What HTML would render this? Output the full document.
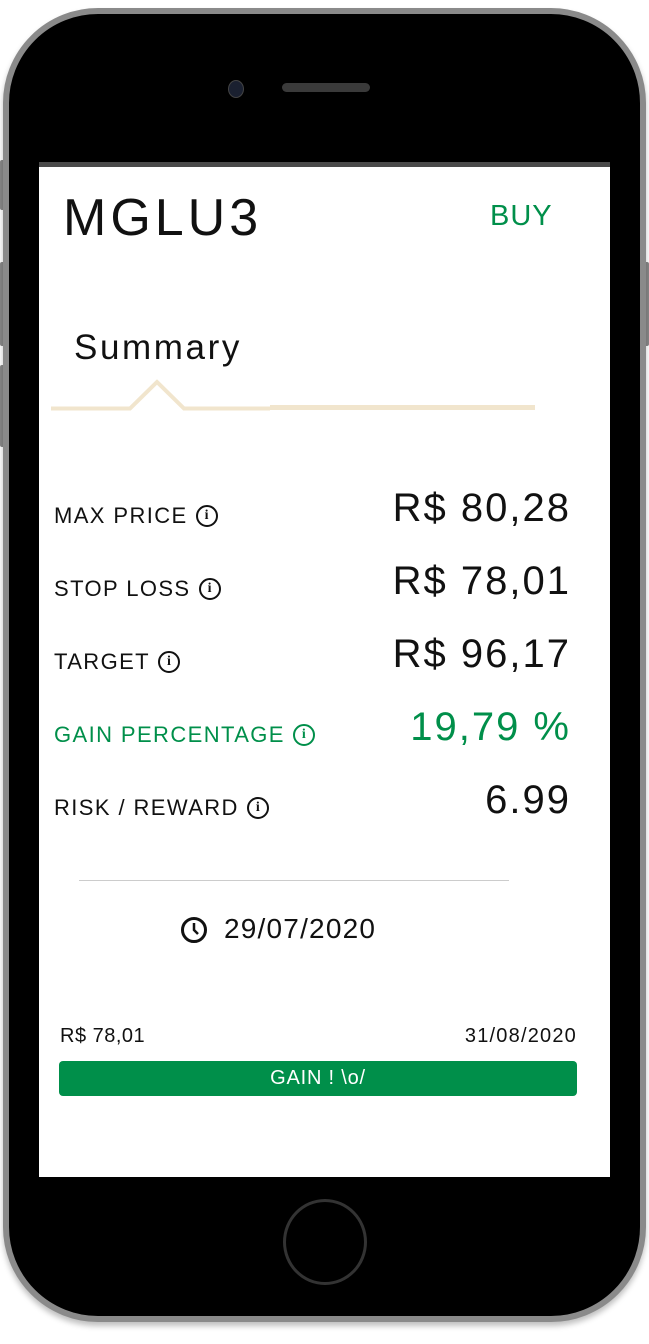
<!DOCTYPE html>
<html><head><meta charset="utf-8"><style>
body{margin:0;width:649px;height:1344px;background:#fff;position:relative;overflow:hidden;font-family:"Liberation Sans",sans-serif}
.a{position:absolute}
.lbl{position:absolute;left:54px;font-size:22px;color:#111;display:flex;align-items:center;gap:8px;letter-spacing:1.4px}
.val{position:absolute;right:78px;font-size:40px;color:#111;letter-spacing:2px}
.i{display:inline-block;width:22px;height:22px;border:2px solid #111;border-radius:50%;box-sizing:border-box;font-size:14px;line-height:18px;text-align:center;font-family:"Liberation Serif",serif;font-weight:bold;letter-spacing:0}
.g{color:#008f4a}.g .i{border-color:#008f4a}
</style></head><body>
<div class="a" style="left:0;top:160px;width:5px;height:50px;background:#888;border-radius:2px"></div>
<div class="a" style="left:0;top:262px;width:5px;height:84px;background:#888;border-radius:2px"></div>
<div class="a" style="left:0;top:365px;width:5px;height:82px;background:#888;border-radius:2px"></div>
<div class="a" style="right:0;top:262px;width:5px;height:84px;background:#888;border-radius:2px"></div>
<div class="a" style="left:3px;top:8px;width:643px;height:1314px;background:#000;border:6px solid #8a8a8a;box-sizing:border-box;border-radius:95px;box-shadow:0 4px 6px rgba(0,0,0,.25)"></div>
<div class="a" style="left:228px;top:80px;width:14px;height:16px;border-radius:50%;background:#1a2030;border:1px solid #444"></div>
<div class="a" style="left:282px;top:83px;width:88px;height:9px;border-radius:5px;background:#3a3a3a"></div>
<div class="a" style="left:283px;top:1199px;width:84px;height:86px;border-radius:50%;border:3px solid #333;box-sizing:border-box"></div>
<div class="a" style="left:39px;top:162px;width:571px;height:1015px;background:#fff;border-top:5px solid #4a4a4a;box-sizing:border-box"></div>
<div class="a" style="left:63px;top:188px;font-size:52px;color:#111;letter-spacing:4px">MGLU3</div>
<div class="a g" style="left:490px;top:200px;font-size:29px;letter-spacing:1px">BUY</div>
<div class="a" style="left:74px;top:328px;font-size:35px;color:#111;letter-spacing:2.6px">Summary</div>
<svg class="a" style="left:50px;top:378px" width="490" height="36">
<polyline points="1,30.5 80,30.5 107,4 134,30.5 220,30.5" fill="none" stroke="#f1e5cd" stroke-width="4"/>
<rect x="220" y="27" width="265" height="5" fill="#f1e5cd"/>
</svg>
<div class="lbl" style="top:503px">MAX PRICE <span class="i">i</span></div>
<div class="val" style="top:486px">R$ 80,28</div>
<div class="lbl" style="top:576px">STOP LOSS <span class="i">i</span></div>
<div class="val" style="top:559px">R$ 78,01</div>
<div class="lbl" style="top:649px">TARGET <span class="i">i</span></div>
<div class="val" style="top:632px">R$ 96,17</div>
<div class="lbl g" style="top:722px;color:#008f4a">GAIN PERCENTAGE <span class="i">i</span></div>
<div class="val g" style="top:705px">19,79 %</div>
<div class="lbl" style="top:795px">RISK / REWARD <span class="i">i</span></div>
<div class="val" style="top:778px">6.99</div>
<div class="a" style="left:79px;top:880px;width:430px;height:1px;background:#ccc"></div>
<svg class="a" style="left:180px;top:916px" width="28" height="28"><circle cx="14" cy="14" r="11.5" fill="none" stroke="#111" stroke-width="3"/><path d="M14 7V14L18 18" fill="none" stroke="#111" stroke-width="2.5"/></svg>
<div class="a" style="left:224px;top:913px;font-size:28px;color:#111;letter-spacing:1.2px">29/07/2020</div>
<div class="a" style="left:60px;top:1025px;font-size:20px;color:#111;letter-spacing:0.5px">R$ 78,01</div>
<div class="a" style="right:72px;top:1025px;font-size:20px;color:#111;letter-spacing:1.2px">31/08/2020</div>
<div class="a" style="left:59px;top:1061px;width:518px;height:35px;background:#008f4a;border-radius:4px;color:#fff;font-size:20px;text-align:center;line-height:35px;letter-spacing:0.8px">GAIN ! \o/</div>
</body></html>
